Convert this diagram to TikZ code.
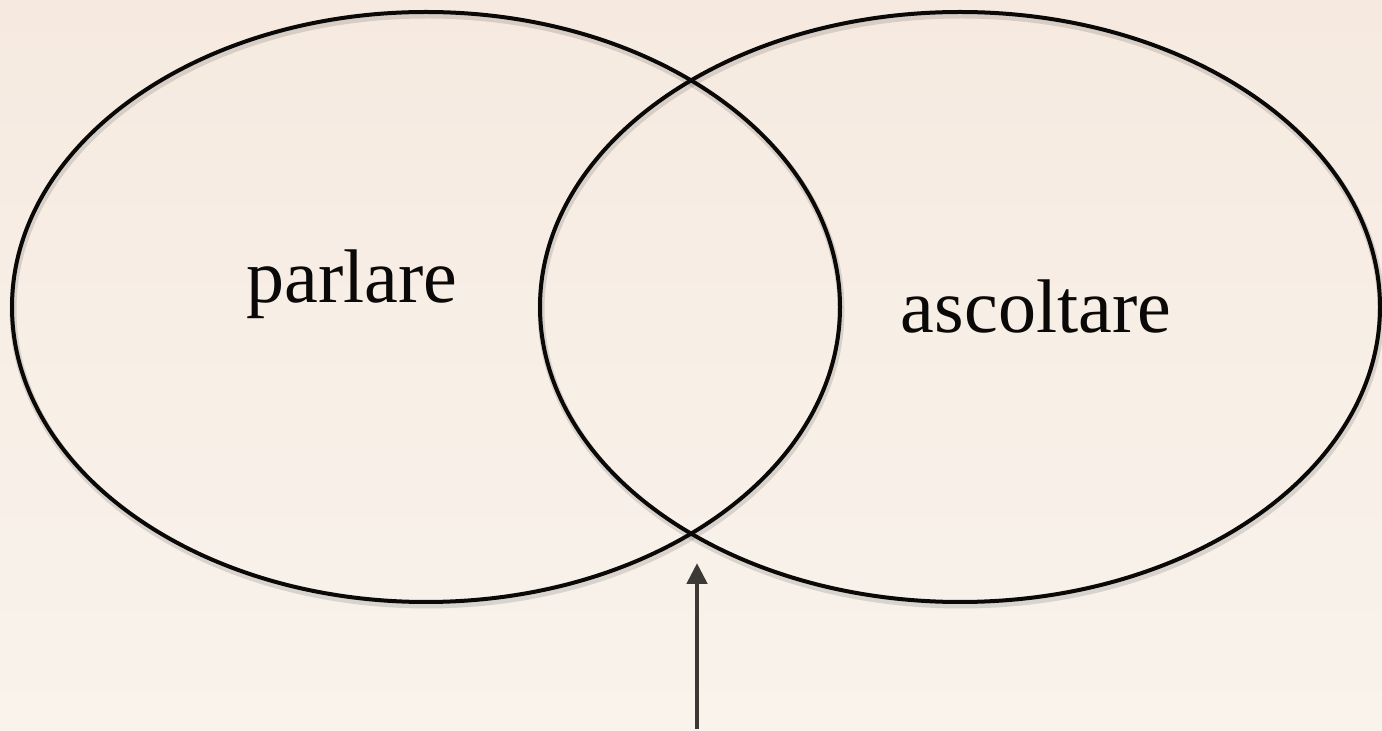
\documentclass[tikz,border=0pt]{standalone}
\usepackage{fontspec}
\setmainfont{Liberation Serif}
\usepackage{tikz}
\usetikzlibrary{shapes.geometric,arrows.meta}
\definecolor{VPaper}{HTML}{F6EAE0}
\definecolor{VPaperLow}{HTML}{F9F3EC}
\definecolor{VInk}{HTML}{0A0908}
\definecolor{VArrow}{HTML}{3B3836}

\begin{document}
\begin{tikzpicture}[x=0.5pt,y=-0.5pt]
    \shade[top color=VPaper,bottom color=VPaperLow] (0,0) rectangle (1382,731);
    \useasboundingbox (0,0) rectangle (1382,731);
    \foreach \n/\x/\w in {speak/426/414pt,listen/960/420pt} {
      \node[ellipse,draw=black,opacity=.12,line width=3.5pt,minimum width=\w,minimum height=295pt,inner sep=0pt] at (\x+1,310) {};
      \node[ellipse,draw=VInk,line width=2pt,minimum width=\w,minimum height=295pt,inner sep=0pt] (\n) at (\x,307) {};
    }
    \node[font=\fontsize{38}{40}\selectfont,text=VInk,anchor=base] (parlare) at (352,303) {parlare};
    \node[font=\fontsize{38}{40}\selectfont,text=VInk,anchor=base] (ascoltare) at (1036,333) {ascoltare};
    \coordinate (foot) at (697,729);
    \coordinate (meet) at (697,563);
    \draw[VArrow,line width=2.4pt,-{Triangle[length=10.5pt,width=10pt]}] (foot) -- (meet);
  \end{tikzpicture}
\end{document}
